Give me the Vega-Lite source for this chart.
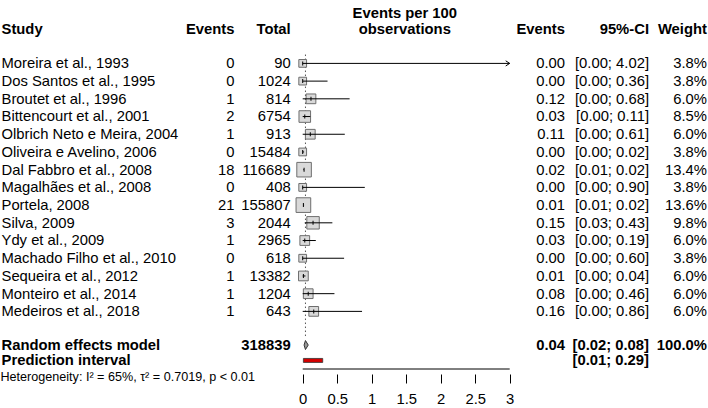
{
  "$schema": "https://vega.github.io/schema/vega-lite/v6.json",
  "width": 708,
  "height": 374,
  "autosize": {"type": "none"},
  "padding": {"left": 0, "top": 0, "right": 0, "bottom": 34},
  "background": "white",
  "config": {
    "font": "Liberation Sans",
    "view": {"stroke": null},
    "text": {"fontSize": 14.8, "color": "black", "baseline": "middle", "dy": 0.9},
    "axis": {"labelFont": "Liberation Sans", "labelFontSize": 14.8, "labelColor": "black", "tickColor": "black"}
  },
  "datasets": {
    "studies": [
      {"study": "Moreira et al., 1993", "events": 0, "total": 90, "est": 0.00, "lo": 0.00, "hi": 4.02, "ci": "[0.00; 4.02]", "weight": 0.038, "row": 1},
      {"study": "Dos Santos et al., 1995", "events": 0, "total": 1024, "est": 0.00, "lo": 0.00, "hi": 0.36, "ci": "[0.00; 0.36]", "weight": 0.038, "row": 2},
      {"study": "Broutet et al., 1996", "events": 1, "total": 814, "est": 0.12, "lo": 0.00, "hi": 0.68, "ci": "[0.00; 0.68]", "weight": 0.060, "row": 3},
      {"study": "Bittencourt et al., 2001", "events": 2, "total": 6754, "est": 0.03, "lo": 0.00, "hi": 0.11, "ci": "[0.00; 0.11]", "weight": 0.085, "row": 4},
      {"study": "Olbrich Neto e Meira, 2004", "events": 1, "total": 913, "est": 0.11, "lo": 0.00, "hi": 0.61, "ci": "[0.00; 0.61]", "weight": 0.060, "row": 5},
      {"study": "Oliveira e Avelino, 2006", "events": 0, "total": 15484, "est": 0.00, "lo": 0.00, "hi": 0.02, "ci": "[0.00; 0.02]", "weight": 0.038, "row": 6},
      {"study": "Dal Fabbro et al., 2008", "events": 18, "total": 116689, "est": 0.02, "lo": 0.01, "hi": 0.02, "ci": "[0.01; 0.02]", "weight": 0.134, "row": 7},
      {"study": "Magalhães et al., 2008", "events": 0, "total": 408, "est": 0.00, "lo": 0.00, "hi": 0.90, "ci": "[0.00; 0.90]", "weight": 0.038, "row": 8},
      {"study": "Portela, 2008", "events": 21, "total": 155807, "est": 0.01, "lo": 0.01, "hi": 0.02, "ci": "[0.01; 0.02]", "weight": 0.136, "row": 9},
      {"study": "Silva, 2009", "events": 3, "total": 2044, "est": 0.15, "lo": 0.03, "hi": 0.43, "ci": "[0.03; 0.43]", "weight": 0.098, "row": 10},
      {"study": "Ydy et al., 2009", "events": 1, "total": 2965, "est": 0.03, "lo": 0.00, "hi": 0.19, "ci": "[0.00; 0.19]", "weight": 0.060, "row": 11},
      {"study": "Machado Filho et al., 2010", "events": 0, "total": 618, "est": 0.00, "lo": 0.00, "hi": 0.60, "ci": "[0.00; 0.60]", "weight": 0.038, "row": 12},
      {"study": "Sequeira et al., 2012", "events": 1, "total": 13382, "est": 0.01, "lo": 0.00, "hi": 0.04, "ci": "[0.00; 0.04]", "weight": 0.060, "row": 13},
      {"study": "Monteiro et al., 2014", "events": 1, "total": 1204, "est": 0.08, "lo": 0.00, "hi": 0.46, "ci": "[0.00; 0.46]", "weight": 0.060, "row": 14},
      {"study": "Medeiros et al., 2018", "events": 1, "total": 643, "est": 0.16, "lo": 0.00, "hi": 0.86, "ci": "[0.00; 0.86]", "weight": 0.060, "row": 15}
    ],
    "summary": [
      {"label": "Random effects model", "total": 318839, "est": 0.04, "lo": 0.02, "hi": 0.08, "ci": "[0.02; 0.08]", "weight": 1.0, "row": 16.9}
    ],
    "pred": [
      {"label": "Prediction interval", "lo": 0.01, "hi": 0.29, "ci": "[0.01; 0.29]", "row": 17.77}
    ],
    "het": [
      {"text": "Heterogeneity: I² = 65%, τ² = 0.7019, p < 0.01", "row": 18.64}
    ]
  },
  "layer": [
    {
      "data": {"name": "summary"},
      "mark": {"type": "rule", "stroke": "#555555", "strokeDash": [1.5, 2.5], "strokeWidth": 1},
      "encoding": {
        "x": {"field": "est", "type": "quantitative",
              "scale": {"domain": [-4.387, 5.874], "nice": false, "zero": false},
              "axis": {"values": [0, 0.5, 1, 1.5, 2, 2.5, 3], "format": "~g", "domain": false, "grid": false, "tickSize": 9, "labelPadding": 8, "title": null, "labelFlush": false, "labelOverlap": false}},
        "y": {"datum": 0.5, "type": "quantitative",
              "scale": {"domain": [-2.297, 18.253], "reverse": true, "nice": false, "zero": false}, "axis": null},
        "y2": {"datum": 16.5}
      }
    },
    {
      "data": {"name": "studies"},
      "mark": {"type": "point", "shape": "square", "filled": true, "fill": "#d9d9d9", "stroke": "#6e6e6e", "strokeWidth": 1, "opacity": 1},
      "encoding": {
        "x": {"field": "est", "type": "quantitative"},
        "y": {"field": "row", "type": "quantitative"},
        "size": {"field": "weight", "type": "quantitative", "scale": {"domain": [0, 0.136], "range": [0, 215], "zero": true}, "legend": null}
      }
    },
    {
      "data": {"name": "studies"},
      "transform": [{"filter": "datum.hi <= 3"}],
      "mark": {"type": "rule", "stroke": "black", "strokeWidth": 1},
      "encoding": {
        "x": {"field": "lo", "type": "quantitative"},
        "x2": {"field": "hi"},
        "y": {"field": "row", "type": "quantitative"}
      }
    },
    {
      "data": {"name": "studies"},
      "transform": [{"filter": "datum.hi > 3"}],
      "mark": {"type": "rule", "stroke": "black", "strokeWidth": 1},
      "encoding": {
        "x": {"field": "lo", "type": "quantitative"},
        "x2": {"datum": 3},
        "y": {"field": "row", "type": "quantitative"}
      }
    },
    {
      "data": {"name": "studies"},
      "transform": [{"filter": "datum.hi > 3"}],
      "mark": {"type": "point", "shape": "M -1 -0.65 L 0 0 L -1 0.65", "filled": false, "stroke": "black", "strokeWidth": 1, "size": 64, "opacity": 1},
      "encoding": {
        "x": {"datum": 3, "type": "quantitative"},
        "y": {"field": "row", "type": "quantitative"}
      }
    },
    {
      "data": {"name": "studies"},
      "mark": {"type": "tick", "orient": "vertical", "size": 4, "thickness": 1, "color": "black", "opacity": 1},
      "encoding": {
        "x": {"field": "est", "type": "quantitative"},
        "y": {"field": "row", "type": "quantitative"}
      }
    },
    {
      "data": {"name": "summary"},
      "mark": {"type": "point", "shape": "M -0.31 0 L 0 -1 L 0.62 0 L 0 1 Z", "filled": true, "fill": "#999999", "stroke": "#333333", "strokeWidth": 1, "size": 81, "opacity": 1},
      "encoding": {
        "x": {"field": "est", "type": "quantitative"},
        "y": {"field": "row", "type": "quantitative"}
      }
    },
    {
      "data": {"name": "pred"},
      "mark": {"type": "bar", "height": 4, "fill": "#d40000", "stroke": "#333333", "strokeWidth": 0.8},
      "encoding": {
        "x": {"field": "lo", "type": "quantitative"},
        "x2": {"field": "hi"},
        "y": {"field": "row", "type": "quantitative"}
      }
    },
    {
      "data": {"values": [{"a": 0}]},
      "mark": {"type": "rule", "stroke": "black", "strokeWidth": 1},
      "encoding": {
        "x": {"datum": 0, "type": "quantitative"},
        "x2": {"datum": 3},
        "y": {"datum": 18.253, "type": "quantitative"}
      }
    },
    {
      "data": {"name": "studies"},
      "mark": {"type": "text", "align": "left"},
      "encoding": {
        "x": {"datum": -4.365, "type": "quantitative"},
        "y": {"field": "row", "type": "quantitative"},
        "text": {"field": "study"}
      }
    },
    {
      "data": {"name": "studies"},
      "mark": {"type": "text", "align": "right"},
      "encoding": {
        "x": {"datum": -0.988, "type": "quantitative"},
        "y": {"field": "row", "type": "quantitative"},
        "text": {"field": "events", "type": "quantitative", "format": "d"}
      }
    },
    {
      "data": {"name": "studies"},
      "mark": {"type": "text", "align": "right"},
      "encoding": {
        "x": {"datum": -0.174, "type": "quantitative"},
        "y": {"field": "row", "type": "quantitative"},
        "text": {"field": "total", "type": "quantitative", "format": "d"}
      }
    },
    {
      "data": {"name": "studies"},
      "mark": {"type": "text", "align": "right"},
      "encoding": {
        "x": {"datum": 3.801, "type": "quantitative"},
        "y": {"field": "row", "type": "quantitative"},
        "text": {"field": "est", "type": "quantitative", "format": ".2f"}
      }
    },
    {
      "data": {"name": "studies"},
      "mark": {"type": "text", "align": "right"},
      "encoding": {
        "x": {"datum": 5.019, "type": "quantitative"},
        "y": {"field": "row", "type": "quantitative"},
        "text": {"field": "ci"}
      }
    },
    {
      "data": {"name": "studies"},
      "mark": {"type": "text", "align": "right"},
      "encoding": {
        "x": {"datum": 5.859, "type": "quantitative"},
        "y": {"field": "row", "type": "quantitative"},
        "text": {"field": "weight", "type": "quantitative", "format": ".1%"}
      }
    },
    {
      "data": {"name": "summary"},
      "mark": {"type": "text", "align": "left", "fontWeight": "bold"},
      "encoding": {
        "x": {"datum": -4.365, "type": "quantitative"},
        "y": {"field": "row", "type": "quantitative"},
        "text": {"field": "label"}
      }
    },
    {
      "data": {"name": "summary"},
      "mark": {"type": "text", "align": "right", "fontWeight": "bold"},
      "encoding": {
        "x": {"datum": -0.174, "type": "quantitative"},
        "y": {"field": "row", "type": "quantitative"},
        "text": {"field": "total", "type": "quantitative", "format": "d"}
      }
    },
    {
      "data": {"name": "summary"},
      "mark": {"type": "text", "align": "right", "fontWeight": "bold"},
      "encoding": {
        "x": {"datum": 3.801, "type": "quantitative"},
        "y": {"field": "row", "type": "quantitative"},
        "text": {"field": "est", "type": "quantitative", "format": ".2f"}
      }
    },
    {
      "data": {"name": "summary"},
      "mark": {"type": "text", "align": "right", "fontWeight": "bold"},
      "encoding": {
        "x": {"datum": 5.019, "type": "quantitative"},
        "y": {"field": "row", "type": "quantitative"},
        "text": {"field": "ci"}
      }
    },
    {
      "data": {"name": "summary"},
      "mark": {"type": "text", "align": "right", "fontWeight": "bold"},
      "encoding": {
        "x": {"datum": 5.859, "type": "quantitative"},
        "y": {"field": "row", "type": "quantitative"},
        "text": {"field": "weight", "type": "quantitative", "format": ".1%"}
      }
    },
    {
      "data": {"name": "pred"},
      "mark": {"type": "text", "align": "left", "fontWeight": "bold"},
      "encoding": {
        "x": {"datum": -4.365, "type": "quantitative"},
        "y": {"field": "row", "type": "quantitative"},
        "text": {"field": "label"}
      }
    },
    {
      "data": {"name": "pred"},
      "mark": {"type": "text", "align": "right", "fontWeight": "bold"},
      "encoding": {
        "x": {"datum": 5.019, "type": "quantitative"},
        "y": {"field": "row", "type": "quantitative"},
        "text": {"field": "ci"}
      }
    },
    {
      "data": {"name": "het"},
      "mark": {"type": "text", "align": "left", "fontSize": 12.6},
      "encoding": {
        "x": {"datum": -4.38, "type": "quantitative"},
        "y": {"field": "row", "type": "quantitative"},
        "text": {"field": "text"}
      }
    },
    {
      "data": {"values": [{"h": "Study"}]},
      "mark": {"type": "text", "align": "left", "fontWeight": "bold"},
      "encoding": {
        "x": {"datum": -4.365, "type": "quantitative"},
        "y": {"datum": -0.923, "type": "quantitative"},
        "text": {"field": "h"}
      }
    },
    {
      "data": {"values": [{"h": "Events"}]},
      "mark": {"type": "text", "align": "right", "fontWeight": "bold"},
      "encoding": {
        "x": {"datum": -0.988, "type": "quantitative"},
        "y": {"datum": -0.923, "type": "quantitative"},
        "text": {"field": "h"}
      }
    },
    {
      "data": {"values": [{"h": "Total"}]},
      "mark": {"type": "text", "align": "right", "fontWeight": "bold"},
      "encoding": {
        "x": {"datum": -0.174, "type": "quantitative"},
        "y": {"datum": -0.923, "type": "quantitative"},
        "text": {"field": "h"}
      }
    },
    {
      "data": {"values": [{"h": "Events per 100"}]},
      "mark": {"type": "text", "align": "center", "fontWeight": "bold"},
      "encoding": {
        "x": {"datum": 1.48, "type": "quantitative"},
        "y": {"datum": -1.857, "type": "quantitative"},
        "text": {"field": "h"}
      }
    },
    {
      "data": {"values": [{"h": "observations"}]},
      "mark": {"type": "text", "align": "center", "fontWeight": "bold"},
      "encoding": {
        "x": {"datum": 1.48, "type": "quantitative"},
        "y": {"datum": -0.923, "type": "quantitative"},
        "text": {"field": "h"}
      }
    },
    {
      "data": {"values": [{"h": "Events"}]},
      "mark": {"type": "text", "align": "right", "fontWeight": "bold"},
      "encoding": {
        "x": {"datum": 3.801, "type": "quantitative"},
        "y": {"datum": -0.923, "type": "quantitative"},
        "text": {"field": "h"}
      }
    },
    {
      "data": {"values": [{"h": "95%-CI"}]},
      "mark": {"type": "text", "align": "right", "fontWeight": "bold"},
      "encoding": {
        "x": {"datum": 5.019, "type": "quantitative"},
        "y": {"datum": -0.923, "type": "quantitative"},
        "text": {"field": "h"}
      }
    },
    {
      "data": {"values": [{"h": "Weight"}]},
      "mark": {"type": "text", "align": "right", "fontWeight": "bold"},
      "encoding": {
        "x": {"datum": 5.859, "type": "quantitative"},
        "y": {"datum": -0.923, "type": "quantitative"},
        "text": {"field": "h"}
      }
    }
  ]
}
